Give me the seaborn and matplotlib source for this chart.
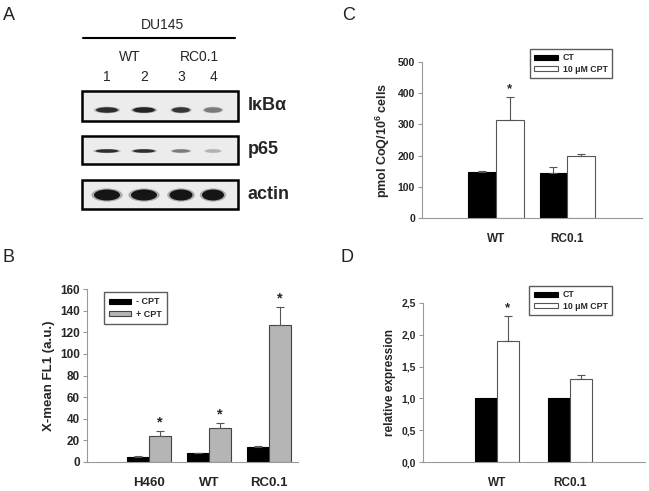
import numpy as np
import pandas as pd
import matplotlib
matplotlib.use("Agg")
import matplotlib.pyplot as plt
from matplotlib.patches import Rectangle, Ellipse, Patch
import seaborn as sns

# ---- data ----
# panel B: flow cytometry
b_groups = ["H460", "WT", "RC0.1"]
b_labels = ["- CPT", "+ CPT"]
b_minus = [5, 8, 14]
b_minus_err = [0.5, 0.5, 0.5]
b_plus = [24, 31, 127]
b_plus_err = [4.5, 5, 16]
b_stars = [False, False, False, True, True, True]

# panel C: CoQ content
c_groups = ["WT", "RC0.1"]
c_labels = ["CT", "10 μM CPT"]
c_ct = [148, 143]
c_ct_err = [4, 19]
c_cpt = [313, 198]
c_cpt_err = [75, 8]
c_stars = [False, False, True, False]
c_ticks = [0, 100, 200, 300, 400, 500]

# panel D: relative expression
d_groups = ["WT", "RC0.1"]
d_ct = [1.0, 1.0]
d_ct_err = [0, 0]
d_cpt = [1.91, 1.31]
d_cpt_err = [0.38, 0.06]
d_stars = [False, False, True, False]
d_ticks = [0, 0.5, 1.0, 1.5, 2.0, 2.5]
d_ticklabels = ["0,0", "0,5", "1,0", "1,5", "2,0", "2,5"]

# panel A: western blot band intensities per lane
lanes = ["1", "2", "3", "4"]
ikba_band = [0.85, 0.9, 0.8, 0.45]
p65_band = [0.85, 0.85, 0.45, 0.22]
actin_band = [1.0, 1.0, 1.0, 1.0]

sns.set_style("white")
plt.rcParams["font.family"] = ["Liberation Sans", "DejaVu Sans"]
plt.rcParams["mathtext.fontset"] = "custom"
plt.rcParams["mathtext.bf"] = "Liberation Sans:bold"
plt.rcParams["mathtext.rm"] = "Liberation Sans"

W, H = 649, 491
fig = plt.figure(figsize=(W / 100, H / 100), dpi=100)


def rect(x0, y0, x1, y1):
    return [x0 / W, 1 - y1 / H, (x1 - x0) / W, (y1 - y0) / H]


def bar_panel(ax, groups, labels, s1, e1, s2, e2, colors, edges, width,
              stars, fs, xfs):
    n = len(groups)
    df = pd.DataFrame({
        "group": groups * 2,
        "cond": [labels[0]] * n + [labels[1]] * n,
        "value": list(s1) + list(s2),
    })
    sns.barplot(data=df, x="group", y="value", hue="cond", order=groups,
                hue_order=labels, palette=colors, width=width, saturation=1,
                errorbar=None, legend=False, ax=ax, linewidth=0.8)
    for k, p in enumerate(ax.patches):
        p.set_edgecolor(edges[k // n])
    tops = []
    for j, (vals, errs) in enumerate([(s1, e1), (s2, e2)]):
        x = np.arange(n) + (j - 0.5) * width / 2
        vals = np.array(vals, float)
        errs = np.array(errs, float)
        m = errs > 0
        ax.errorbar(x[m], vals[m], yerr=[np.zeros(m.sum()), errs[m]],
                    fmt="none", ecolor="#555555", elinewidth=0.8,
                    capsize=3, capthick=0.8)
        tops += list(zip(x, vals + errs))
    ymax = ax.get_ylim()[1]
    for (x, t), st in zip(tops, stars):
        if st:
            ax.text(x, t + ymax * 0.012, "*", ha="center", va="bottom",
                    fontsize=fs + 2, fontweight="bold")
    ax.set_xlabel("")
    for s in ["top", "right"]:
        ax.spines[s].set_visible(False)
    for s in ["left", "bottom"]:
        ax.spines[s].set_color("#999999")
        ax.spines[s].set_linewidth(0.8)
    ax.tick_params(axis="y", left=True, length=3, width=0.8,
                   color="#999999", labelsize=fs, pad=2)
    ax.tick_params(axis="x", bottom=False, labelsize=xfs, pad=7)
    for t in ax.get_xticklabels():
        t.set_fontweight("bold")
    handles = [Patch(facecolor=colors[i], edgecolor=edges[i], linewidth=0.8,
                     label=labels[i]) for i in range(2)]
    return handles


def bold_yticks(ax, ticks, labels, fs):
    ax.set_yticks(ticks)
    ax.set_yticklabels(labels, fontweight="bold", fontsize=fs)


# ---- panel B ----
axB = fig.add_axes(rect(87, 289, 298, 462))
axB.set_ylim(0, 160)
hB = bar_panel(axB, b_groups, b_labels, b_minus, b_minus_err, b_plus,
               b_plus_err, ["#000000", "#b5b5b5"], ["#000000", "#444444"],
               0.73, b_stars, 8.5, 9.5)
axB.set_xlim(-1.03, 2.48)
axB.set_ylim(0, 160)
b_ticks = list(range(0, 161, 20))
bold_yticks(axB, b_ticks, [str(t) for t in b_ticks], 8.5)
axB.set_ylabel("X-mean FL1 (a.u.)", fontsize=9.5, fontweight="bold",
               labelpad=4)
axB.legend(handles=hB, loc="upper left", bbox_to_anchor=(0.08, 0.98),
           borderaxespad=0, fancybox=False, edgecolor="#333333",
           prop={"size": 6.5, "weight": "bold"}, handlelength=2.5,
           handleheight=0.55, labelspacing=0.35, borderpad=0.55,
           handletextpad=0.5)

# ---- panel C ----
axC = fig.add_axes(rect(422, 62, 642, 218))
axC.set_ylim(0, 500)
hC = bar_panel(axC, c_groups, c_labels, c_ct, c_ct_err, c_cpt, c_cpt_err,
               ["#000000", "#ffffff"], ["#000000", "#555555"], 0.78,
               c_stars, 7.5, 8.5)
axC.set_xlim(-1.03, 2.04)
axC.set_ylim(0, 500)
bold_yticks(axC, c_ticks, [str(t) for t in c_ticks], 7.5)
axC.set_ylabel("pmol CoQ/10$^{\\mathbf{6}}$ cells", fontsize=9,
               fontweight="bold", labelpad=4)
axC.legend(handles=hC, loc="upper right", bbox_to_anchor=(0.864, 1.083),
           borderaxespad=0, fancybox=False, edgecolor="#333333",
           prop={"size": 6.3, "weight": "bold"}, handlelength=2.8,
           handleheight=0.5, labelspacing=0.3, borderpad=0.5,
           handletextpad=0.5)

# ---- panel D ----
axD = fig.add_axes(rect(423, 303, 645, 462))
axD.set_ylim(0, 2.5)
hD = bar_panel(axD, d_groups, c_labels, d_ct, d_ct_err, d_cpt, d_cpt_err,
               ["#000000", "#ffffff"], ["#000000", "#555555"], 0.6,
               d_stars, 7.5, 8.5)
axD.set_xlim(-1.01, 2.03)
axD.set_ylim(0, 2.5)
bold_yticks(axD, d_ticks, d_ticklabels, 7.5)
axD.set_ylabel("relative expression", fontsize=8.5, fontweight="bold",
               labelpad=4)
axD.legend(handles=hD, loc="upper right", bbox_to_anchor=(0.851, 1.107),
           borderaxespad=0, fancybox=False, edgecolor="#333333",
           prop={"size": 6.3, "weight": "bold"}, handlelength=2.8,
           handleheight=0.5, labelspacing=0.3, borderpad=0.5,
           handletextpad=0.5)

# ---- panel A: blot ----
axA = fig.add_axes(rect(0, 0, 330, 245))
axA.set_xlim(0, 330)
axA.set_ylim(245, 0)
axA.axis("off")
lane_x = [107, 144, 181, 213]
rows = [
    # (label, intensities, box top, box bottom, band y, band w, band h)
    ("IκBα", ikba_band, 91, 121, 110, [22, 22, 18, 18], 5.5),
    ("p65", p65_band, 136, 164, 151, [23, 22, 18, 16], 3.5),
    ("actin", actin_band, 180, 209, 195, [26, 26, 23, 22], 11),
]
for label, inten, y0, y1, yb, bw, bh in rows:
    axA.add_patch(Rectangle((82, y0), 156, y1 - y0, facecolor="#ececec",
                            edgecolor="black", linewidth=1.8))
    for x, a, w in zip(lane_x, inten, bw):
        for s, al in [(1.2, 0.3), (1.0, 1.0)]:
            axA.add_patch(Ellipse((x, yb), w * s, bh * s,
                                  facecolor="#151515",
                                  alpha=a * al, edgecolor="none"))
    axA.text(248, (y0 + y1) / 2, label, fontsize=13, fontweight="bold",
             va="center", ha="left")
axA.text(162, 25, "DU145", fontsize=10, ha="center", va="center")
axA.plot([83, 235], [38, 38], color="black", lw=1.5)
axA.text(130, 57, "WT", fontsize=10, ha="center", va="center")
axA.text(199, 57, "RC0.1", fontsize=10, ha="center", va="center")
for x, t in zip(lane_x, lanes):
    axA.text(x, 77, t, fontsize=10, ha="center", va="center")

# panel letters
for x, y, t in [(3, 15, "A"), (342, 15, "C"), (2, 257, "B"), (340, 257, "D")]:
    fig.text(x / W, 1 - y / H, t, fontsize=13, ha="left", va="center",
             color="#222222")

fig.savefig("out.png", dpi=100)
